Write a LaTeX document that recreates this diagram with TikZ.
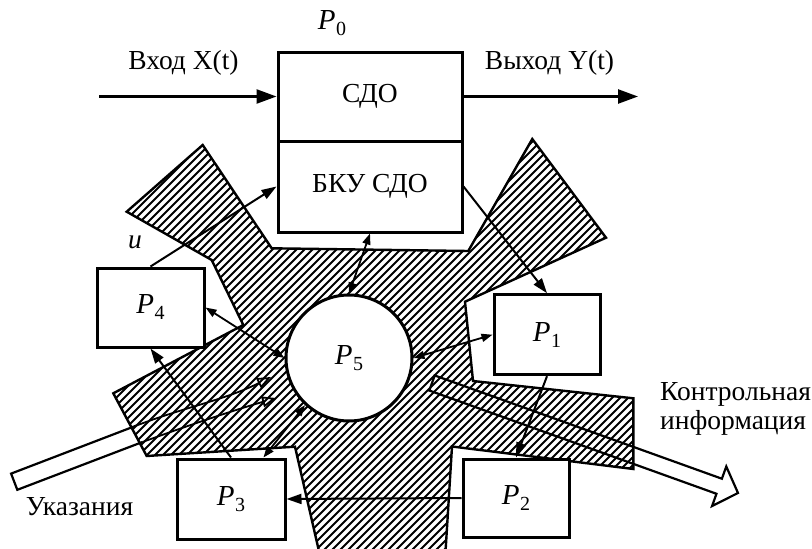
\documentclass[tikz,border=0pt]{standalone}
\usepackage{fontspec}
\setmainfont{Liberation Serif}
\usetikzlibrary{arrows.meta,calc}

\newcommand{\dgfont}{\fontsize{27.5}{29}\selectfont}
\newcommand{\Pn}[1]{\textit{\fontsize{29}{29}\selectfont P}\kern0.5pt\raisebox{-6pt}{\fontsize{20}{20}\selectfont #1}}
% block arrow outline: start, tip, half shaft, head length, half head
\newcommand{\blockarrow}[5]{%
  \coordinate (ba-base) at ($(#2)!#4!(#1)$);
  \draw[hollow] ($(#1)!#3!90:(#2)$) -- ($(ba-base)!#3!90:(#2)$)
    -- ($(ba-base)!#5!90:(#2)$) -- (#2) -- ($(ba-base)!#5!-90:(#2)$)
    -- ($(ba-base)!#3!-90:(#2)$) -- ($(#1)!#3!-90:(#2)$) -- cycle;}

\tikzset{
  blk/.style={draw, line width=3pt, fill=white, inner sep=0pt, font=\dgfont},
  conn/.style={line width=2pt, -{Triangle[length=15pt,width=10pt]}},
  biconn/.style={line width=1.8pt, {Triangle[length=11pt,width=8pt]}-{Triangle[length=11pt,width=8pt]}},
  ioconn/.style={line width=2.4pt, -{Triangle[length=20pt,width=14pt]}},
  zone/.style={line width=2.4pt, line join=miter},
  hollow/.style={line width=2.2pt, line join=miter},
  thinarr/.style={line width=1.8pt, -{Triangle[open,length=14pt,width=11pt]}},
  hatch/.style={line width=2.1pt},
  lbl/.style={font=\dgfont, inner sep=0pt},
}

\begin{document}
\begin{tikzpicture}[x=1pt,y=-1pt]
\useasboundingbox (0,0) rectangle (812,549);

% outline of the shared control zone
\coordinate (A1) at (202.7,145);
\coordinate (A2) at (271.7,248.3);
\coordinate (A3) at (468.3,251);
\coordinate (A4) at (532.3,139);
\coordinate (A5) at (606,237.7);
\coordinate (A6) at (465,301.7);
\coordinate (A7) at (473,381);
\coordinate (A8) at (633.3,398.3);
\coordinate (A9) at (633.3,469);
\coordinate (A10) at (452,446.5);
\coordinate (A11) at (445,560);
\coordinate (A12) at (321,560);
\coordinate (A13) at (295,446.7);
\coordinate (A14) at (146.7,456);
\coordinate (A15) at (113.3,393.3);
\coordinate (A16) at (243.3,325);
\coordinate (A17) at (211.7,260);
\coordinate (A18) at (126.7,211.7);

\begin{scope}
  \clip (A1) -- (A2) -- (A3) -- (A4) -- (A5) -- (A6) -- (A7) -- (A8) -- (A9)
    -- (A10) -- (A11) -- (A12) -- (A13) -- (A14) -- (A15) -- (A16) -- (A17)
    -- (A18) -- cycle;
  \foreach \c in {330,338,...,1120}
    \draw[hatch] (\c,0) -- ++(-620,620);
\end{scope}
\draw[zone] (A1) -- (A2) -- (A3) -- (A4) -- (A5) -- (A6) -- (A7) -- (A8) -- (A9)
  -- (A10) -- (A11) -- (A12) -- (A13) -- (A14) -- (A15) -- (A16) -- (A17)
  -- (A18) -- cycle;

% outgoing control information
\coordinate (ciS) at (432,383);
\coordinate (ciT) at (738,493);
\blockarrow{ciS}{ciT}{8pt}{20pt}{21pt}

% incoming instructions
\coordinate (U0) at (11.1,473.6);
\coordinate (L0) at (17.3,489.8);
\coordinate (U1) at (136.3,425.6);
\coordinate (L1) at (142.5,442);
\coordinate (Ut) at (271,377);
\coordinate (Lt) at (276,398);
\draw[hollow] (U1) -- (U0) -- (L0) -- (L1);
\draw[thinarr] (U1) .. controls (185,407) and (225,400) .. (Ut);
\draw[thinarr] (L1) .. controls (195,423) and (235,410) .. (Lt);

% blocks
\node[blk, minimum width=184pt, minimum height=89pt] (sdo) at (370,96.5) {СДО};
\node[blk, minimum width=184pt, minimum height=91pt] (bku) at (370,186.5) {БКУ СДО};
\node[blk, minimum width=107pt, minimum height=79pt] (p4) at (150.5,307.5) {\Pn{4}};
\node[blk, minimum width=106pt, minimum height=80pt] (p1) at (547,334.7) {\Pn{1}};
\node[blk, minimum width=108pt, minimum height=80pt] (p3) at (231,499) {\Pn{3}};
\node[blk, minimum width=106pt, minimum height=78pt] (p2) at (516,498) {\Pn{2}};
\node[draw, circle, line width=3pt, fill=white, minimum size=126pt, inner sep=0pt,
      font=\dgfont] (p5) at (349,358) {\Pn{5}};

% input and output of the system
\coordinate (inX) at (99,96.5);
\coordinate (outY) at (638,96.5);
\draw[ioconn] (inX) -- (sdo.west);
\draw[ioconn] (sdo.east) -- (outY);

% links between the blocks
\draw[conn] (p4.north) -- (bku.west);
\draw[conn] (bku.east) -- (p1.north);
\draw[biconn] (bku.south) -- (p5.north);
\draw[biconn] (p4.east) -- (p5.west);
\draw[biconn] (p5.east) -- (p1.west);
\draw[biconn] (p3.52) -- (p5.227);
\draw[conn] (p1.south) -- (p2.north);
\draw[conn] (p2.west) -- (p3.east);
\draw[conn] (p3.north) -- (p4.south);

% labels
\node[lbl] (p0lbl) at (332,23) {\Pn{0}};
\node[lbl] (inlbl) at (183.5,63) {Вход X(t)};
\node[lbl] (outlbl) at (549.5,63) {Выход Y(t)};
\node[lbl] (ulbl) at (135,242) {\textit{u}};
\node[lbl] (uklbl) at (79.5,507) {Указания};
\node[lbl, align=left, anchor=west] (kilbl) at (660,409) {Контрольная\\информация};
\end{tikzpicture}
\end{document}
